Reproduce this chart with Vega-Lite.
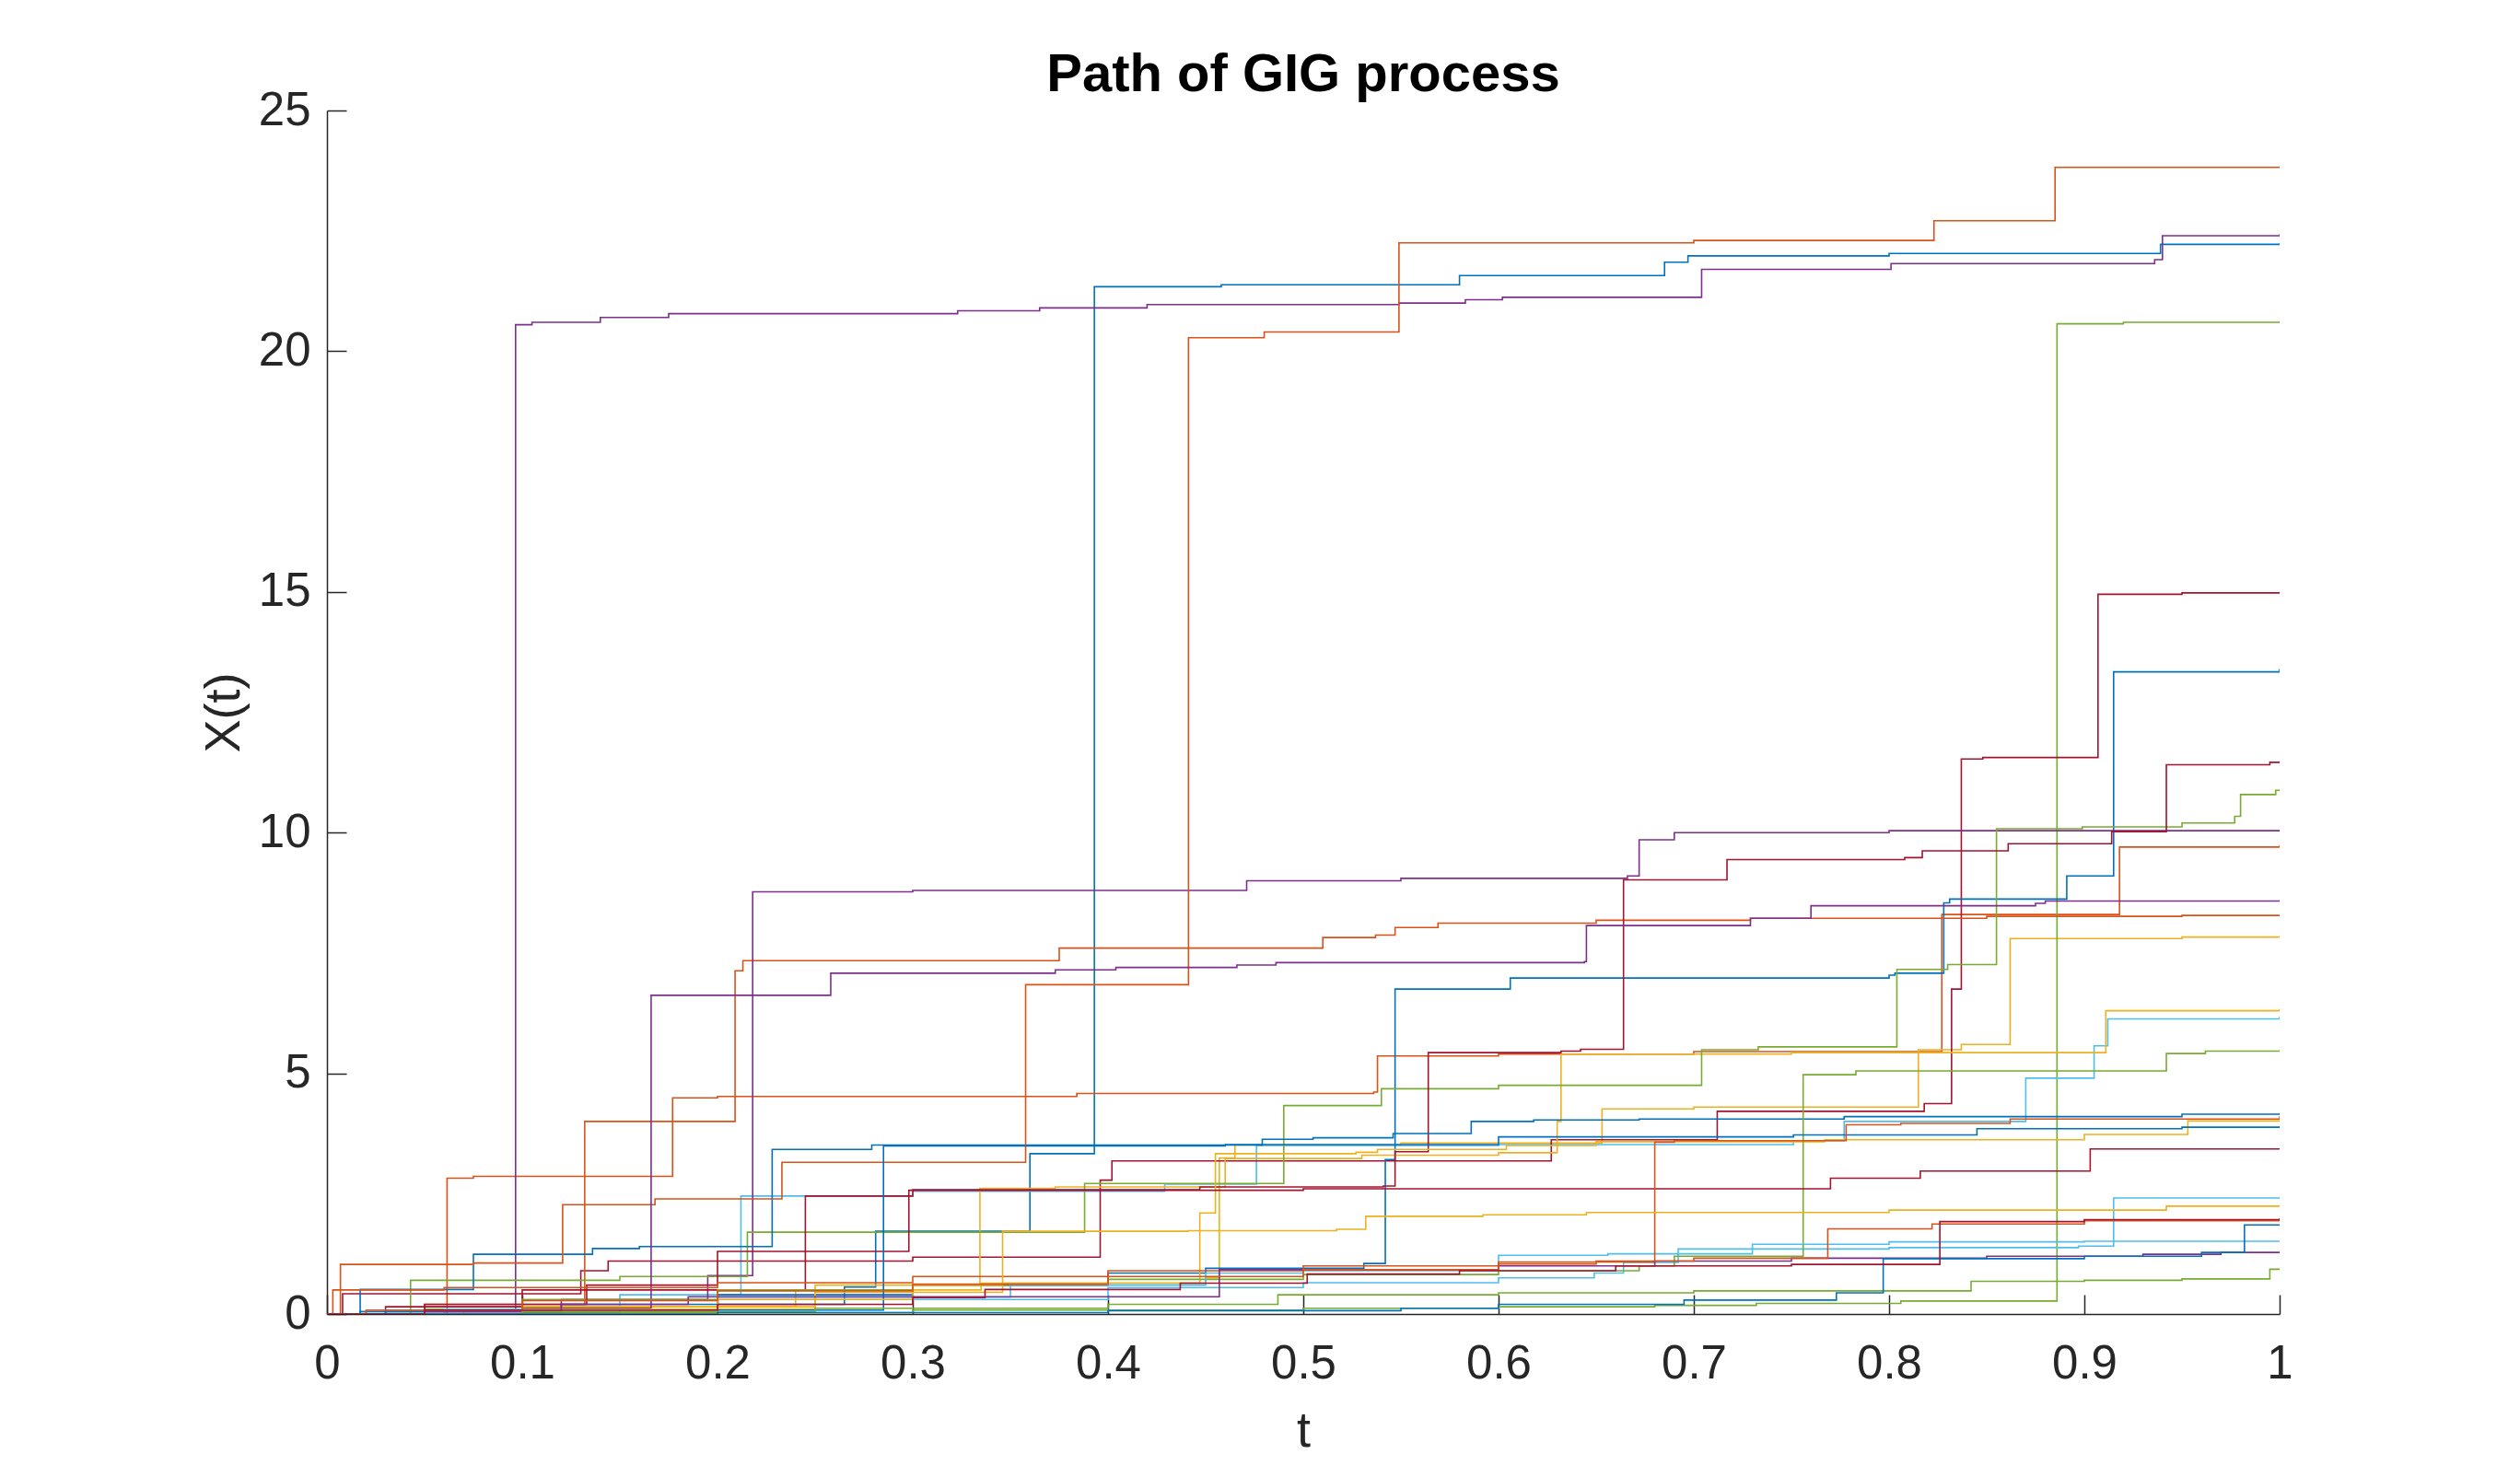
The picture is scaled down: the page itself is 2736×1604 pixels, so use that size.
{
  "$schema": "https://vega.github.io/schema/vega-lite/v6.json",
  "autosize": {"type": "none"},
  "width": 2120,
  "height": 1307,
  "padding": {"left": 355, "top": 120, "right": 261, "bottom": 177},
  "background": "white",
  "title": {
    "text": "Path of GIG process",
    "font": "Liberation Sans",
    "fontSize": 58,
    "fontWeight": "bold",
    "color": "#000000",
    "frame": "group",
    "anchor": "middle",
    "baseline": "alphabetic",
    "offset": 12,
    "dy": 75
  },
  "config": {
    "view": {"stroke": null},
    "axis": {
      "grid": false,
      "domainColor": "#262626",
      "domainWidth": 1.5,
      "tickColor": "#262626",
      "tickWidth": 1.5,
      "tickSize": -21,
      "labelFont": "Liberation Sans",
      "labelFontSize": 51,
      "labelColor": "#262626",
      "titleFont": "Liberation Sans",
      "titleFontSize": 54,
      "titleFontWeight": "normal",
      "titleColor": "#262626"
    }
  },
  "data": {
    "values": [
      {"p":"p01","t":0,"y":0},{"p":"p01","t":0.017,"y":0.05},{"p":"p01","t":0.12,"y":0.2},{"p":"p01","t":0.265,"y":0.56},{"p":"p01","t":0.281,"y":1.72},{"p":"p01","t":0.36,"y":3.33},{"p":"p01","t":0.393,"y":21.34},{"p":"p01","t":0.458,"y":21.38},{"p":"p01","t":0.58,"y":21.57},{"p":"p01","t":0.685,"y":21.85},{"p":"p01","t":0.697,"y":21.98},{"p":"p01","t":0.8,"y":22.03},{"p":"p01","t":0.939,"y":22.22},{"p":"p01","t":1,"y":22.24},

      {"p":"p02","t":0,"y":0},{"p":"p02","t":0.0615,"y":2.82},{"p":"p02","t":0.075,"y":2.86},{"p":"p02","t":0.177,"y":4.49},{"p":"p02","t":0.2,"y":4.52},{"p":"p02","t":0.384,"y":4.58},{"p":"p02","t":0.536,"y":4.61},{"p":"p02","t":0.538,"y":5.36},{"p":"p02","t":0.6,"y":5.4},{"p":"p02","t":0.7,"y":5.45},{"p":"p02","t":0.827,"y":8.3},{"p":"p02","t":0.918,"y":9.7},{"p":"p02","t":1,"y":9.74},

      {"p":"p03","t":0,"y":0},{"p":"p03","t":0.1,"y":0.15},{"p":"p03","t":0.24,"y":0.5},{"p":"p03","t":0.335,"y":0.64},{"p":"p03","t":0.45,"y":0.75},{"p":"p03","t":0.457,"y":3.24},{"p":"p03","t":0.465,"y":3.51},{"p":"p03","t":0.55,"y":3.55},{"p":"p03","t":0.653,"y":4.26},{"p":"p03","t":0.7,"y":4.3},{"p":"p03","t":0.815,"y":5.49},{"p":"p03","t":0.837,"y":5.6},{"p":"p03","t":0.862,"y":7.8},{"p":"p03","t":0.95,"y":7.83},{"p":"p03","t":1,"y":7.85},

      {"p":"p04","t":0,"y":0},{"p":"p04","t":0.05,"y":0.1},{"p":"p04","t":0.0966,"y":20.55},{"p":"p04","t":0.105,"y":20.6},{"p":"p04","t":0.14,"y":20.7},{"p":"p04","t":0.175,"y":20.78},{"p":"p04","t":0.323,"y":20.84},{"p":"p04","t":0.365,"y":20.9},{"p":"p04","t":0.42,"y":20.97},{"p":"p04","t":0.549,"y":21.0},{"p":"p04","t":0.583,"y":21.07},{"p":"p04","t":0.602,"y":21.12},{"p":"p04","t":0.704,"y":21.7},{"p":"p04","t":0.801,"y":21.82},{"p":"p04","t":0.936,"y":21.9},{"p":"p04","t":0.94,"y":22.4},{"p":"p04","t":1,"y":22.43},

      {"p":"p05","t":0,"y":0},{"p":"p05","t":0.1,"y":0.03},{"p":"p05","t":0.3,"y":0.08},{"p":"p05","t":0.5,"y":0.12},{"p":"p05","t":0.6,"y":0.15},{"p":"p05","t":0.68,"y":0.18},{"p":"p05","t":0.732,"y":0.22},{"p":"p05","t":0.806,"y":0.27},{"p":"p05","t":0.886,"y":20.57},{"p":"p05","t":0.92,"y":20.6},{"p":"p05","t":1,"y":20.62},

      {"p":"p06","t":0,"y":0},{"p":"p06","t":0.05,"y":0.15},{"p":"p06","t":0.15,"y":0.4},{"p":"p06","t":0.212,"y":2.45},{"p":"p06","t":0.3,"y":2.55},{"p":"p06","t":0.429,"y":2.7},{"p":"p06","t":0.476,"y":3.5},{"p":"p06","t":0.6,"y":3.52},{"p":"p06","t":0.751,"y":3.6},{"p":"p06","t":0.777,"y":4.0},{"p":"p06","t":0.87,"y":4.9},{"p":"p06","t":0.905,"y":5.57},{"p":"p06","t":0.912,"y":6.13},{"p":"p06","t":1,"y":6.18},

      {"p":"p07","t":0,"y":0},{"p":"p07","t":0.008,"y":0.42},{"p":"p07","t":0.13,"y":0.9},{"p":"p07","t":0.144,"y":1.1},{"p":"p07","t":0.3,"y":1.18},{"p":"p07","t":0.396,"y":2.78},{"p":"p07","t":0.402,"y":3.18},{"p":"p07","t":0.627,"y":3.62},{"p":"p07","t":0.712,"y":4.21},{"p":"p07","t":0.818,"y":4.37},{"p":"p07","t":0.832,"y":6.75},{"p":"p07","t":0.837,"y":11.53},{"p":"p07","t":0.848,"y":11.56},{"p":"p07","t":0.907,"y":14.95},{"p":"p07","t":0.95,"y":14.98},{"p":"p07","t":1,"y":15.0},

      {"p":"p08","t":0,"y":0},{"p":"p08","t":0.05,"y":0.1},{"p":"p08","t":0.2,"y":0.4},{"p":"p08","t":0.3,"y":0.6},{"p":"p08","t":0.4,"y":0.85},{"p":"p08","t":0.45,"y":0.95},{"p":"p08","t":0.531,"y":1.05},{"p":"p08","t":0.542,"y":3.21},{"p":"p08","t":0.547,"y":6.75},{"p":"p08","t":0.606,"y":6.98},{"p":"p08","t":0.8,"y":7.04},{"p":"p08","t":0.803,"y":7.08},{"p":"p08","t":0.828,"y":8.54},{"p":"p08","t":0.831,"y":8.62},{"p":"p08","t":0.891,"y":9.1},{"p":"p08","t":0.915,"y":13.34},{"p":"p08","t":1,"y":13.4},

      {"p":"p09","t":0,"y":0},{"p":"p09","t":0.05,"y":0.2},{"p":"p09","t":0.132,"y":4.0},{"p":"p09","t":0.209,"y":7.13},{"p":"p09","t":0.213,"y":7.34},{"p":"p09","t":0.375,"y":7.6},{"p":"p09","t":0.51,"y":7.82},{"p":"p09","t":0.537,"y":7.87},{"p":"p09","t":0.547,"y":8.03},{"p":"p09","t":0.569,"y":8.12},{"p":"p09","t":0.65,"y":8.18},{"p":"p09","t":0.729,"y":8.22},{"p":"p09","t":0.85,"y":8.26},{"p":"p09","t":0.95,"y":8.28},{"p":"p09","t":1,"y":8.29},

      {"p":"p10","t":0,"y":0},{"p":"p10","t":0.1,"y":0.15},{"p":"p10","t":0.25,"y":0.6},{"p":"p10","t":0.3344,"y":2.61},{"p":"p10","t":0.373,"y":2.64},{"p":"p10","t":0.46,"y":3.23},{"p":"p10","t":0.53,"y":3.3},{"p":"p10","t":0.6,"y":3.35},{"p":"p10","t":0.63,"y":4.0},{"p":"p10","t":0.632,"y":5.4},{"p":"p10","t":0.75,"y":5.43},{"p":"p10","t":0.911,"y":6.3},{"p":"p10","t":1,"y":6.34},

      {"p":"p11","t":0,"y":0},{"p":"p11","t":0.05,"y":0.1},{"p":"p11","t":0.12,"y":0.3},{"p":"p11","t":0.195,"y":0.8},{"p":"p11","t":0.218,"y":8.77},{"p":"p11","t":0.3,"y":8.8},{"p":"p11","t":0.471,"y":9.0},{"p":"p11","t":0.55,"y":9.05},{"p":"p11","t":0.666,"y":9.1},{"p":"p11","t":0.672,"y":9.85},{"p":"p11","t":0.69,"y":10.0},{"p":"p11","t":0.8,"y":10.04},{"p":"p11","t":1,"y":10.06},

      {"p":"p12","t":0,"y":0},{"p":"p12","t":0.0428,"y":0.7},{"p":"p12","t":0.15,"y":0.78},{"p":"p12","t":0.2153,"y":1.7},{"p":"p12","t":0.388,"y":2.71},{"p":"p12","t":0.49,"y":4.33},{"p":"p12","t":0.54,"y":4.68},{"p":"p12","t":0.6,"y":4.75},{"p":"p12","t":0.704,"y":5.49},{"p":"p12","t":0.733,"y":5.55},{"p":"p12","t":0.804,"y":7.16},{"p":"p12","t":0.83,"y":7.26},{"p":"p12","t":0.855,"y":10.08},{"p":"p12","t":0.899,"y":10.12},{"p":"p12","t":0.95,"y":10.2},{"p":"p12","t":0.977,"y":10.34},{"p":"p12","t":0.98,"y":10.79},{"p":"p12","t":0.998,"y":10.88},{"p":"p12","t":1,"y":10.88},

      {"p":"p13","t":0,"y":0},{"p":"p13","t":0.05,"y":0.1},{"p":"p13","t":0.2,"y":0.3},{"p":"p13","t":0.4,"y":0.55},{"p":"p13","t":0.5,"y":0.65},{"p":"p13","t":0.6,"y":0.75},{"p":"p13","t":0.649,"y":0.85},{"p":"p13","t":0.664,"y":1.07},{"p":"p13","t":0.692,"y":1.35},{"p":"p13","t":0.8,"y":1.38},{"p":"p13","t":0.897,"y":1.41},{"p":"p13","t":0.915,"y":2.41},{"p":"p13","t":1,"y":2.43},

      {"p":"p14","t":0,"y":0},{"p":"p14","t":0.03,"y":0.15},{"p":"p14","t":0.1,"y":0.5},{"p":"p14","t":0.245,"y":2.45},{"p":"p14","t":0.3,"y":2.58},{"p":"p14","t":0.447,"y":2.64},{"p":"p14","t":0.541,"y":2.66},{"p":"p14","t":0.547,"y":3.37},{"p":"p14","t":0.564,"y":5.43},{"p":"p14","t":0.632,"y":5.46},{"p":"p14","t":0.642,"y":5.5},{"p":"p14","t":0.664,"y":9.02},{"p":"p14","t":0.717,"y":9.44},{"p":"p14","t":0.808,"y":9.48},{"p":"p14","t":0.817,"y":9.62},{"p":"p14","t":0.861,"y":9.77},{"p":"p14","t":0.914,"y":10.02},{"p":"p14","t":0.942,"y":11.41},{"p":"p14","t":0.995,"y":11.46},{"p":"p14","t":1,"y":11.48},

      {"p":"p15","t":0,"y":0},{"p":"p15","t":0.017,"y":0.51},{"p":"p15","t":0.075,"y":1.24},{"p":"p15","t":0.136,"y":1.36},{"p":"p15","t":0.16,"y":1.4},{"p":"p15","t":0.228,"y":3.42},{"p":"p15","t":0.279,"y":3.51},{"p":"p15","t":0.479,"y":3.63},{"p":"p15","t":0.505,"y":3.66},{"p":"p15","t":0.546,"y":3.75},{"p":"p15","t":0.586,"y":4.0},{"p":"p15","t":0.618,"y":4.03},{"p":"p15","t":0.672,"y":4.05},{"p":"p15","t":0.777,"y":4.1},{"p":"p15","t":0.95,"y":4.15},{"p":"p15","t":1,"y":4.17},

      {"p":"p16","t":0,"y":0},{"p":"p16","t":0.0069,"y":1.03},{"p":"p16","t":0.075,"y":1.06},{"p":"p16","t":0.1207,"y":2.27},{"p":"p16","t":0.168,"y":2.39},{"p":"p16","t":0.233,"y":3.15},{"p":"p16","t":0.3578,"y":6.84},{"p":"p16","t":0.4412,"y":20.28},{"p":"p16","t":0.48,"y":20.4},{"p":"p16","t":0.549,"y":22.25},{"p":"p16","t":0.7,"y":22.3},{"p":"p16","t":0.823,"y":22.71},{"p":"p16","t":0.885,"y":23.82},{"p":"p16","t":1,"y":23.84},

      {"p":"p17","t":0,"y":0},{"p":"p17","t":0.07,"y":0.1},{"p":"p17","t":0.25,"y":0.45},{"p":"p17","t":0.346,"y":0.64},{"p":"p17","t":0.447,"y":2.1},{"p":"p17","t":0.455,"y":3.33},{"p":"p17","t":0.527,"y":3.36},{"p":"p17","t":0.538,"y":3.42},{"p":"p17","t":0.604,"y":3.5},{"p":"p17","t":0.65,"y":3.58},{"p":"p17","t":0.767,"y":3.62},{"p":"p17","t":0.9,"y":3.73},{"p":"p17","t":0.953,"y":4.01},{"p":"p17","t":1,"y":4.03},

      {"p":"p18","t":0,"y":0},{"p":"p18","t":0.1,"y":0.12},{"p":"p18","t":0.166,"y":6.62},{"p":"p18","t":0.258,"y":7.08},{"p":"p18","t":0.373,"y":7.15},{"p":"p18","t":0.404,"y":7.2},{"p":"p18","t":0.466,"y":7.25},{"p":"p18","t":0.486,"y":7.3},{"p":"p18","t":0.644,"y":7.32},{"p":"p18","t":0.645,"y":8.07},{"p":"p18","t":0.729,"y":8.22},{"p":"p18","t":0.76,"y":8.48},{"p":"p18","t":0.875,"y":8.53},{"p":"p18","t":0.88,"y":8.58},{"p":"p18","t":1,"y":8.6},

      {"p":"p19","t":0,"y":0},{"p":"p19","t":0.05,"y":0.1},{"p":"p19","t":0.1,"y":0.3},{"p":"p19","t":0.2,"y":0.5},{"p":"p19","t":0.3,"y":0.6},{"p":"p19","t":0.4,"y":0.72},{"p":"p19","t":0.5,"y":0.82},{"p":"p19","t":0.6,"y":0.9},{"p":"p19","t":0.672,"y":1.0},{"p":"p19","t":0.69,"y":1.2},{"p":"p19","t":0.756,"y":4.97},{"p":"p19","t":0.783,"y":5.05},{"p":"p19","t":0.942,"y":5.41},{"p":"p19","t":0.962,"y":5.46},{"p":"p19","t":1,"y":5.48},

      {"p":"p20","t":0,"y":0},{"p":"p20","t":0.06,"y":0.1},{"p":"p20","t":0.2,"y":0.35},{"p":"p20","t":0.35,"y":0.6},{"p":"p20","t":0.45,"y":0.85},{"p":"p20","t":0.5,"y":0.9},{"p":"p20","t":0.6,"y":1.22},{"p":"p20","t":0.656,"y":1.25},{"p":"p20","t":0.73,"y":1.45},{"p":"p20","t":0.8,"y":1.5},{"p":"p20","t":0.9,"y":1.51},{"p":"p20","t":1,"y":1.52},

      {"p":"p21","t":0,"y":0},{"p":"p21","t":0.05,"y":0.2},{"p":"p21","t":0.133,"y":0.6},{"p":"p21","t":0.2,"y":1.3},{"p":"p21","t":0.298,"y":2.57},{"p":"p21","t":0.5,"y":2.6},{"p":"p21","t":0.77,"y":2.82},{"p":"p21","t":0.816,"y":2.97},{"p":"p21","t":0.903,"y":3.43},{"p":"p21","t":1,"y":3.44},

      {"p":"p22","t":0,"y":0},{"p":"p22","t":0.03,"y":0.05},{"p":"p22","t":0.15,"y":0.08},{"p":"p22","t":0.285,"y":3.49},{"p":"p22","t":0.46,"y":3.52},{"p":"p22","t":0.6,"y":3.68},{"p":"p22","t":0.751,"y":3.72},{"p":"p22","t":0.845,"y":3.85},{"p":"p22","t":0.95,"y":3.88},{"p":"p22","t":1,"y":3.9},

      {"p":"p23","t":0,"y":0},{"p":"p23","t":0.003,"y":0.5},{"p":"p23","t":0.06,"y":0.55},{"p":"p23","t":0.2,"y":0.65},{"p":"p23","t":0.3,"y":0.78},{"p":"p23","t":0.4,"y":0.9},{"p":"p23","t":0.5,"y":1.0},{"p":"p23","t":0.6,"y":1.08},{"p":"p23","t":0.68,"y":3.57},{"p":"p23","t":0.69,"y":3.6},{"p":"p23","t":0.778,"y":3.93},{"p":"p23","t":0.806,"y":3.96},{"p":"p23","t":0.862,"y":4.05},{"p":"p23","t":1,"y":4.11},

      {"p":"p24","t":0,"y":0},{"p":"p24","t":0.1,"y":0.1},{"p":"p24","t":0.2,"y":0.3},{"p":"p24","t":0.3,"y":0.6},{"p":"p24","t":0.346,"y":1.72},{"p":"p24","t":0.441,"y":1.73},{"p":"p24","t":0.517,"y":1.76},{"p":"p24","t":0.532,"y":2.03},{"p":"p24","t":0.592,"y":2.06},{"p":"p24","t":0.645,"y":2.11},{"p":"p24","t":0.8,"y":2.16},{"p":"p24","t":0.942,"y":2.24},{"p":"p24","t":1,"y":2.25},

      {"p":"p25","t":0,"y":0},{"p":"p25","t":0.05,"y":0.05},{"p":"p25","t":0.12,"y":0.2},{"p":"p25","t":0.185,"y":0.36},{"p":"p25","t":0.457,"y":0.92},{"p":"p25","t":0.6,"y":1.0},{"p":"p25","t":0.68,"y":1.1},{"p":"p25","t":0.75,"y":1.16},{"p":"p25","t":0.85,"y":1.2},{"p":"p25","t":0.93,"y":1.24},{"p":"p25","t":0.97,"y":1.28},{"p":"p25","t":1,"y":1.28},

      {"p":"p26","t":0,"y":0},{"p":"p26","t":0.1,"y":0.05},{"p":"p26","t":0.25,"y":0.12},{"p":"p26","t":0.4,"y":0.2},{"p":"p26","t":0.487,"y":0.4},{"p":"p26","t":0.6,"y":0.44},{"p":"p26","t":0.7,"y":0.48},{"p":"p26","t":0.842,"y":0.68},{"p":"p26","t":0.9,"y":0.7},{"p":"p26","t":0.95,"y":0.73},{"p":"p26","t":0.995,"y":0.93},{"p":"p26","t":1,"y":0.93},

      {"p":"p27","t":0,"y":0},{"p":"p27","t":0.2,"y":0.03},{"p":"p27","t":0.4,"y":0.07},{"p":"p27","t":0.55,"y":0.12},{"p":"p27","t":0.6,"y":0.2},{"p":"p27","t":0.695,"y":0.29},{"p":"p27","t":0.773,"y":0.44},{"p":"p27","t":0.797,"y":1.15},{"p":"p27","t":0.9,"y":1.2},{"p":"p27","t":0.96,"y":1.28},{"p":"p27","t":0.982,"y":1.85},{"p":"p27","t":1,"y":1.86},

      {"p":"p28","t":0,"y":0},{"p":"p28","t":0.02,"y":0.08},{"p":"p28","t":0.1,"y":0.28},{"p":"p28","t":0.2,"y":0.48},{"p":"p28","t":0.3,"y":0.62},{"p":"p28","t":0.4,"y":0.78},{"p":"p28","t":0.5,"y":0.92},{"p":"p28","t":0.6,"y":1.04},{"p":"p28","t":0.65,"y":1.1},{"p":"p28","t":0.7,"y":1.16},{"p":"p28","t":0.7686,"y":1.77},{"p":"p28","t":0.822,"y":1.87},{"p":"p28","t":0.9,"y":1.94},{"p":"p28","t":1,"y":1.97},

      {"p":"p29","t":0,"y":0},{"p":"p29","t":0.05,"y":0.08},{"p":"p29","t":0.2,"y":0.2},{"p":"p29","t":0.3,"y":0.34},{"p":"p29","t":0.337,"y":0.51},{"p":"p29","t":0.437,"y":0.64},{"p":"p29","t":0.502,"y":0.83},{"p":"p29","t":0.58,"y":0.9},{"p":"p29","t":0.66,"y":1.0},{"p":"p29","t":0.75,"y":1.03},{"p":"p29","t":0.826,"y":1.92},{"p":"p29","t":0.9,"y":1.96},{"p":"p29","t":1,"y":1.99}
    ]
  },
  "mark": {"type": "line", "interpolate": "step-after", "strokeWidth": 1.6, "clip": true},
  "encoding": {
    "x": {
      "field": "t",
      "type": "quantitative",
      "scale": {"domain": [0, 1], "nice": false},
      "axis": {
        "title": "t",
        "values": [0, 0.1, 0.2, 0.3, 0.4, 0.5, 0.6, 0.7, 0.8, 0.9, 1],
        "format": "~g",
        "labelPadding": 50,
        "labelFlush": false,
        "titleBaseline": "alphabetic",
        "titleX": 1060,
        "titleY": 143
      }
    },
    "y": {
      "field": "y",
      "type": "quantitative",
      "scale": {"domain": [0, 25], "nice": false},
      "axis": {
        "title": "X(t)",
        "values": [0, 5, 10, 15, 20, 25],
        "labelPadding": 39,
        "titleBaseline": "alphabetic",
        "titleX": -96,
        "titleY": 653.5
      }
    },
    "color": {
      "field": "p",
      "type": "nominal",
      "legend": null,
      "scale": {
        "domain": ["p01","p02","p03","p04","p05","p06","p07","p08","p09","p10","p11","p12","p13","p14","p15","p16","p17","p18","p19","p20","p21","p22","p23","p24","p25","p26","p27","p28","p29"],
        "range": ["#0072BD","#D95319","#EDB120","#7E2F8E","#77AC30","#4DBEEE","#A2142F","#0072BD","#D95319","#EDB120","#7E2F8E","#77AC30","#4DBEEE","#A2142F","#0072BD","#D95319","#EDB120","#7E2F8E","#77AC30","#4DBEEE","#A2142F","#0072BD","#D95319","#EDB120","#7E2F8E","#77AC30","#0072BD","#D95319","#A2142F"]
      }
    }
  }
}
